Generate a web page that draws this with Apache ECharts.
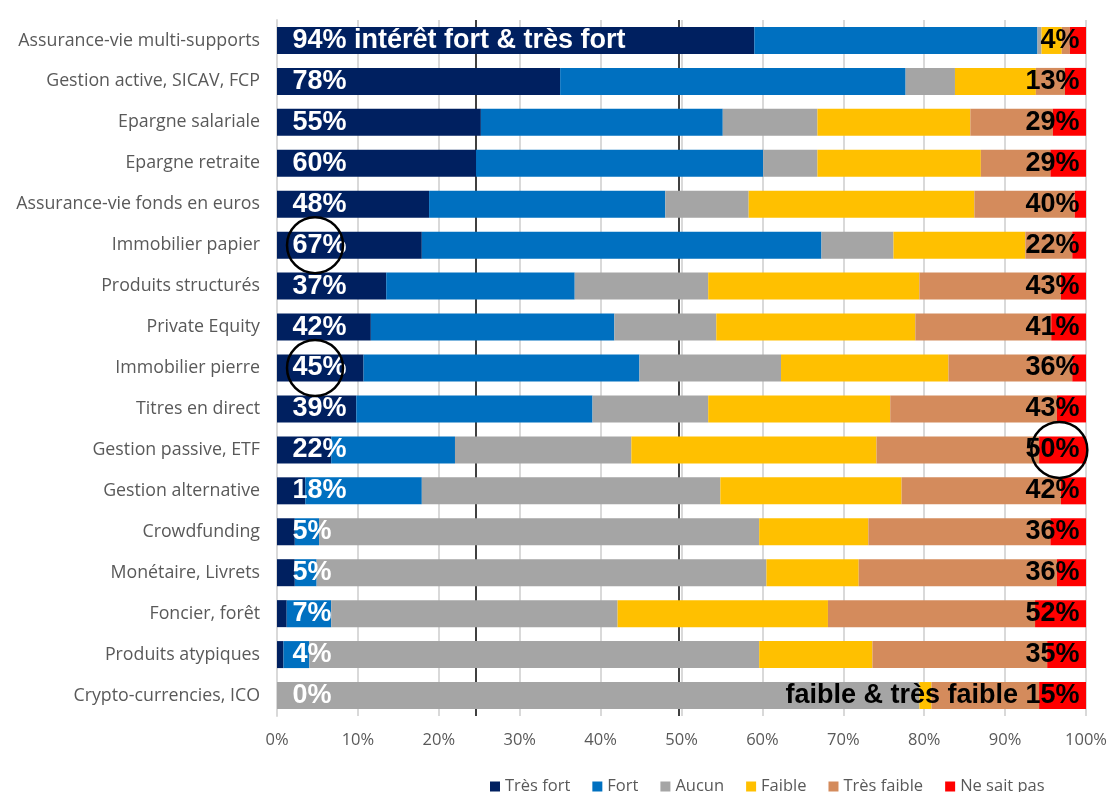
<!DOCTYPE html>
<html><head><meta charset="utf-8">
<script src="https://cdn.jsdelivr.net/npm/echarts@6/dist/echarts.min.js"></script>
<style>html,body{margin:0;padding:0;background:#fff}#c{width:1110px;height:792px}</style>
</head><body><div id="c"></div>
<script>
var categories = ["Assurance-vie multi-supports","Gestion active, SICAV, FCP","Epargne salariale","Epargne retraite","Assurance-vie fonds en euros","Immobilier papier","Produits structurés","Private Equity","Immobilier pierre","Titres en direct","Gestion passive, ETF","Gestion alternative","Crowdfunding","Monétaire, Livrets","Foncier, forêt","Produits atypiques","Crypto-currencies, ICO"];
var seriesNames = ["Très fort","Fort","Aucun","Faible","Très faible","Ne sait pas"];
var tresFort   = [59, 35, 25.2, 24.6, 18.8, 17.9, 13.5, 11.6, 10.7, 9.8, 6.7, 3.5, 2.2, 2.2, 1.2, 0.8, 0];
var fort       = [35, 42.7, 29.9, 35.5, 29.2, 49.4, 23.3, 30.1, 34.1, 29.2, 15.3, 14.4, 3.0, 2.7, 5.5, 3.2, 0];
var aucun      = [0.5, 6.1, 11.7, 6.7, 10.3, 8.9, 16.5, 12.6, 17.5, 14.3, 21.8, 36.9, 54.4, 55.6, 35.4, 55.6, 79.4];
var faible     = [2.5, 10, 18.9, 20.2, 27.9, 16.3, 26.1, 24.6, 20.7, 22.5, 30.3, 22.4, 13.5, 11.4, 26.0, 14.0, 1.5];
var tresFaible = [1, 3.6, 10.2, 8.6, 12.4, 5.8, 17.5, 16.8, 15.3, 20.6, 20.1, 19.7, 22.5, 24.5, 25.6, 21.6, 13.3];
var neSaitPas  = [2, 2.6, 4.1, 4.4, 1.4, 1.7, 3.1, 4.3, 1.7, 3.6, 5.8, 3.1, 4.4, 3.6, 6.3, 4.8, 5.8];
var leftLabels = ["94% intérêt fort & très fort","78%","55%","60%","48%","67%","37%","42%","45%","39%","22%","18%","5%","5%","7%","4%","0%"];
var rightLabels = ["4%","13%","29%","29%","40%","22%","43%","41%","36%","43%","50%","42%","36%","36%","52%","35%","faible & très faible 15%"];
var refLines = [24.6, 49.6];
var circles = [[4.7,"Immobilier papier"],[4.7,"Immobilier pierre"],[96.7,"Gestion passive, ETF"]];
var xTicks = ["0%","10%","20%","30%","40%","50%","60%","70%","80%","90%","100%"];

var colors = ["#002060","#0070C0","#A5A5A5","#FFC000","#D48B5C","#FF0000"];
var values = [tresFort, fort, aucun, faible, tresFaible, neSaitPas];
var labelFont = '"Liberation Sans", Arial, sans-serif';
var lightFont = '"Open Sans", sans-serif';

var series = values.map(function(v, i){
  var s = {name: seriesNames[i], type:'bar', stack:'total', barWidth: 27, data: v,
    itemStyle:{color: colors[i]}, z: 2};
  if (i === 0) {
    s.markLine = {silent:true, symbol:'none', z:1, label:{show:false},
      lineStyle:{color:'#000', width:1.5, type:'solid'},
      data: refLines.map(function(x){return {xAxis:x};})};
  }
  return s;
});
series.push({type:'scatter', name:'lblL', data: categories.map(function(c){return [0,c];}),
  symbolSize:1, itemStyle:{color:'#ffffff', opacity:0}, z:5, silent:true,
  label:{show:true, position:'right', distance:15, color:'#ffffff', opacity:1, textBorderWidth:0,
    fontFamily:labelFont, fontWeight:'bold', fontSize:27,
    formatter:function(p){return leftLabels[p.dataIndex];}}});
series.push({type:'scatter', name:'lblR', data: categories.map(function(c){return [100,c];}),
  symbolSize:1, itemStyle:{color:'#000000', opacity:0}, z:5, silent:true,
  label:{show:true, position:'left', distance:6, color:'#000000', opacity:1, textBorderWidth:0,
    fontFamily:labelFont, fontWeight:'bold', fontSize:27,
    formatter:function(p){return rightLabels[p.dataIndex];}}});
series.push({type:'scatter', name:'circ', data: circles, symbolSize:56, z:6, silent:true,
  itemStyle:{color:'rgba(0,0,0,0)', borderColor:'#000', borderWidth:2.5, opacity:1}});

var chart = echarts.init(document.getElementById('c'));
chart.setOption({
  animation:false,
  grid:{left:277, right:23, top:20, bottom:76, containLabel:false},
  legend:{data: seriesNames, left:485, top:773, icon:'rect', itemWidth:10, itemHeight:10, itemGap:22,
    selectedMode:false,
    textStyle:{color:'#595959', fontSize:16.5, fontFamily:lightFont}},
  xAxis:{type:'value', min:0, max:100, interval:10,
    axisLabel:{color:'#595959', fontSize:16.5, margin:16, fontFamily:lightFont,
      formatter:function(v){return xTicks[Math.round(v/10)];}},
    axisLine:{show:false}, axisTick:{show:false},
    splitLine:{lineStyle:{color:'#D9D9D9', width:2}}},
  yAxis:{type:'category', data: categories, inverse:true,
    axisLabel:{color:'#595959', fontSize:17.8, margin:17, fontFamily:lightFont},
    axisLine:{lineStyle:{color:'#D9D9D9', width:2}}, axisTick:{show:false}},
  series: series
});
</script></body></html>
